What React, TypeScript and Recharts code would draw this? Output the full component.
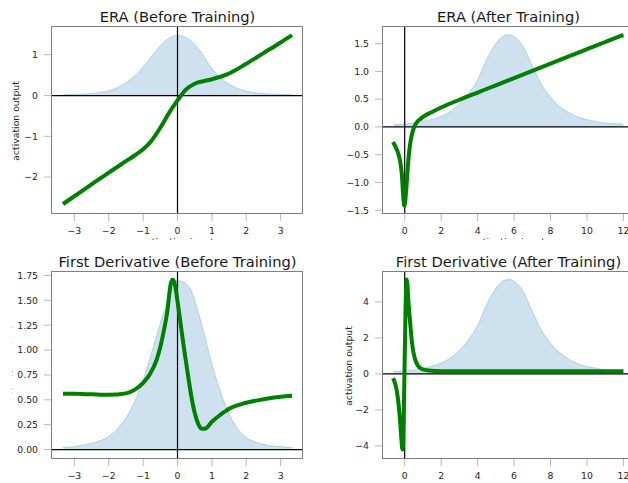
import React from 'react';
import { ComposedChart, Line, Area, XAxis, YAxis, ReferenceLine } from 'recharts';

// ---- density (before training) ----
const densBeforeX = [-3.33, -3, -2.67, -2.33, -2, -1.67, -1.33, -1, -0.67, -0.33, 0, 0.33, 0.67, 1, 1.33, 1.67, 2, 2.33, 2.67, 3, 3.33];
const densTL = [0.02, 0.03, 0.04, 0.07, 0.12, 0.23, 0.42, 0.7, 1.05, 1.36, 1.48, 1.38, 1.08, 0.66, 0.38, 0.2, 0.11, 0.06, 0.04, 0.03, 0.02];
const densBL = [0.02, 0.03, 0.05, 0.08, 0.13, 0.24, 0.42, 0.7, 1.07, 1.45, 1.7, 1.64, 1.3, 0.86, 0.5, 0.25, 0.12, 0.07, 0.04, 0.03, 0.02];

// ---- ERA before training ----
const eraBeforeX = [-3.33, -3, -2.5, -2, -1.5, -1.25, -1, -0.75, -0.5, -0.25, 0, 0.25, 0.5, 0.75, 1, 1.25, 1.5, 2, 2.5, 3, 3.33];
const eraBeforeY = [-2.66, -2.47, -2.18, -1.89, -1.61, -1.47, -1.32, -1.1, -0.79, -0.43, -0.12, 0.15, 0.29, 0.35, 0.4, 0.46, 0.54, 0.78, 1.04, 1.3, 1.48];

// ---- first derivative before training ----
const derivBeforeX = [-3.33, -3, -2.5, -2, -1.5, -1.25, -1, -0.8, -0.6, -0.5, -0.4, -0.3, -0.2, -0.15, -0.1, -0.05, 0, 0.1, 0.2, 0.3, 0.4, 0.5, 0.6, 0.7, 0.8, 1, 1.25, 1.5, 2, 2.5, 3, 3.33];
const derivBeforeY = [0.56, 0.56, 0.555, 0.55, 0.565, 0.6, 0.67, 0.76, 0.91, 1.03, 1.19, 1.38, 1.66, 1.71, 1.69, 1.61, 1.49, 1.24, 0.99, 0.76, 0.54, 0.37, 0.26, 0.21, 0.21, 0.28, 0.35, 0.41, 0.47, 0.505, 0.53, 0.54];

// ---- density (after training) ----
const densAfterX = [-0.6, 0, 0.5, 1, 1.5, 2, 2.5, 3, 3.5, 4, 4.5, 5, 5.5, 5.75, 6, 6.5, 7, 7.5, 8, 8.5, 9, 9.5, 10, 10.5, 11, 11.5, 12];
const densTR = [0.04, 0.05, 0.07, 0.1, 0.14, 0.19, 0.28, 0.41, 0.6, 0.85, 1.22, 1.5, 1.65, 1.66, 1.63, 1.45, 1.1, 0.77, 0.54, 0.37, 0.26, 0.18, 0.13, 0.1, 0.07, 0.06, 0.05];
const densBR = [0.13, 0.16, 0.22, 0.32, 0.44, 0.6, 0.88, 1.3, 1.9, 2.69, 3.86, 4.74, 5.21, 5.24, 5.15, 4.58, 3.48, 2.43, 1.71, 1.17, 0.82, 0.57, 0.41, 0.32, 0.22, 0.19, 0.16];

// ---- ERA after training ----
const eraAfterX = [-0.64, -0.5, -0.35, -0.25, -0.16, -0.08, -0.02, 0.04, 0.11, 0.2, 0.28, 0.38, 0.5, 0.6, 0.7, 0.85, 1, 1.5, 2, 3, 4, 5, 6, 7, 8, 9, 10, 11, 12];
const eraAfterY = [-0.27, -0.36, -0.48, -0.62, -0.84, -1.25, -1.42, -1.3, -1.02, -0.6, -0.35, -0.16, -0.02, 0.05, 0.1, 0.14, 0.18, 0.27, 0.35, 0.49, 0.62, 0.75, 0.88, 1.01, 1.14, 1.27, 1.4, 1.53, 1.66];

// ---- first derivative after training ----
const derivAfterX = [-0.64, -0.55, -0.45, -0.35, -0.25, -0.18, -0.12, -0.08, -0.04, 0, 0.04, 0.08, 0.11, 0.15, 0.2, 0.3, 0.4, 0.5, 0.6, 0.7, 0.85, 1, 1.3, 1.7, 2.5, 4, 6, 8, 10, 12];
const derivAfterY = [-0.24, -0.45, -0.85, -1.55, -2.65, -3.65, -4.2, -3.6, -1.6, 0.8, 3.2, 4.9, 5.25, 5.0, 4.1, 2.85, 1.75, 1.1, 0.72, 0.5, 0.33, 0.25, 0.19, 0.16, 0.15, 0.15, 0.15, 0.15, 0.15, 0.15];

// ---- ticks ----
const ticksBeforeX = [-3, -2, -1, 0, 1, 2, 3];
const ticksAfterX = [0, 2, 4, 6, 8, 10, 12];
const ticksTLY = [-2, -1, 0, 1];
const ticksTRY = [-1.5, -1, -0.5, 0, 0.5, 1, 1.5];
const ticksBLY = [0, 0.25, 0.5, 0.75, 1, 1.25, 1.5, 1.75];
const ticksBRY = [-4, -2, 0, 2, 4];

const titles = ['ERA (Before Training)', 'ERA (After Training)', 'First Derivative (Before Training)', 'First Derivative (After Training)'];
const yLabelText = 'activation output';
const xLabelText = 'activation input';

type Row = { x: number; y?: number; d?: number };

function merge(lx: number[], ly: number[], dx: number[], dy: number[]): Row[] {
  const m = new Map<number, Row>();
  lx.forEach((x, i) => {
    const r = m.get(x) ?? { x };
    r.y = ly[i];
    m.set(x, r);
  });
  dx.forEach((x, i) => {
    const r = m.get(x) ?? { x };
    r.d = dy[i];
    m.set(x, r);
  });
  return [...m.values()].sort((a, b) => a.x - b.x);
}

const fmt = (digits: number) => (v: number) => v.toFixed(digits).replace('-', '\u2212');

const FONT = 'DejaVu Sans';
const tickStyle = { fontSize: 9.3, fill: '#262626', fontFamily: FONT };

type PanelProps = {
  left: number;
  top: number;
  width: number;
  yw: number;
  data: Row[];
  xDomain: [number, number];
  yDomain: [number, number];
  xTicks: number[];
  yTicks: number[];
  yDigits: number;
};

function Panel({ left, top, width, yw, data, xDomain, yDomain, xTicks, yTicks, yDigits }: PanelProps) {
  return (
    <div style={{ position: 'absolute', left, top }}>
      <ComposedChart width={width} height={245} data={data} margin={{ top: 27, right: width - yw - 251, bottom: 0, left: 0 }}>
        <XAxis
          type="number"
          dataKey="x"
          domain={xDomain}
          allowDataOverflow
          ticks={xTicks}
          interval={0}
          height={32}
          tickSize={8}
          tickMargin={6}
          axisLine={false}
          tickLine={{ stroke: '#b8b8b8' }}
          tick={tickStyle}
          tickFormatter={fmt(0)}
        />
        <YAxis
          type="number"
          domain={yDomain}
          allowDataOverflow
          ticks={yTicks}
          interval={0}
          width={yw}
          tickSize={8}
          tickMargin={6}
          axisLine={false}
          tickLine={{ stroke: '#b8b8b8' }}
          tick={tickStyle}
          tickFormatter={fmt(yDigits)}
        />
        <Area
          dataKey="d"
          type="monotone"
          connectNulls
          fill="#1f77b4"
          fillOpacity={0.22}
          stroke="#1f77b4"
          strokeOpacity={0.25}
          strokeWidth={1}
          dot={false}
          activeDot={false}
          isAnimationActive={false}
        />
        <ReferenceLine y={0} stroke="#000" strokeWidth={1.2} />
        <ReferenceLine x={0} stroke="#000" strokeWidth={1.2} />
        <Line
          dataKey="y"
          type="monotone"
          connectNulls
          stroke="#008000"
          strokeWidth={4}
          dot={false}
          activeDot={false}
          isAnimationActive={false}
        />
      </ComposedChart>
    </div>
  );
}

export default function App() {
  const dataTL = merge(eraBeforeX, eraBeforeY, densBeforeX, densTL);
  const dataBL = merge(derivBeforeX, derivBeforeY, densBeforeX, densBL);
  const dataTR = merge(eraAfterX, eraAfterY, densAfterX, densTR);
  const dataBR = merge(derivAfterX, derivAfterY, densAfterX, densBR);
  const spine = '#808080';
  return (
    <div style={{ position: 'absolute', left: 0, top: 0, width: 628, height: 483, overflow: 'hidden', background: '#fff' }}>
      <Panel left={0} top={0} width={314} yw={52} data={dataTL} xDomain={[-3.65, 3.65]} yDomain={[-2.88, 1.68]} xTicks={ticksBeforeX} yTicks={ticksTLY} yDigits={0} />
      <Panel left={314} top={0} width={326} yw={69} data={dataTR} xDomain={[-1.19, 12.58]} yDomain={[-1.55, 1.8]} xTicks={ticksAfterX} yTicks={ticksTRY} yDigits={1} />
      <Panel left={0} top={245} width={314} yw={52} data={dataBL} xDomain={[-3.65, 3.65]} yDomain={[-0.085, 1.785]} xTicks={ticksBeforeX} yTicks={ticksBLY} yDigits={2} />
      <Panel left={314} top={245} width={326} yw={69} data={dataBR} xDomain={[-1.19, 12.58]} yDomain={[-4.67, 5.66]} xTicks={ticksAfterX} yTicks={ticksBRY} yDigits={0} />
      <svg width={628} height={483} style={{ position: 'absolute', left: 0, top: 0, pointerEvents: 'none' }}>
        <defs>
          <clipPath id="clipTopX">
            <rect x={0} y={225} width={628} height={15} />
          </clipPath>
          <clipPath id="clipBLy">
            <rect x={0} y={270} width={12.5} height={200} />
          </clipPath>
        </defs>
        <rect x={51.5} y={26.5} width={251} height={187} fill="none" stroke={spine} strokeWidth={1} />
        <rect x={382.5} y={26.5} width={251} height={187} fill="none" stroke={spine} strokeWidth={1} />
        <rect x={51.5} y={271.5} width={251} height={187} fill="none" stroke={spine} strokeWidth={1} />
        <rect x={382.5} y={271.5} width={251} height={187} fill="none" stroke={spine} strokeWidth={1} />
        <g fontFamily={FONT} fontSize={14.7} fill="#1a1a1a" textAnchor="middle">
          <text x={177.5} y={21.5}>{titles[0]}</text>
          <text x={508.5} y={21.5}>{titles[1]}</text>
          <text x={177.5} y={266.5}>{titles[2]}</text>
          <text x={508.5} y={266.5}>{titles[3]}</text>
        </g>
        <g fontFamily={FONT} fontSize={9.3} fill="#262626" textAnchor="middle">
          <text transform="translate(19.3,121) rotate(-90)">{yLabelText}</text>
          <text transform="translate(351.5,366) rotate(-90)">{yLabelText}</text>
          <g clipPath="url(#clipBLy)">
            <text transform="translate(18.6,365) rotate(-90)">{yLabelText}</text>
          </g>
          <g clipPath="url(#clipTopX)">
            <text x={177.5} y={245}>{xLabelText}</text>
            <text x={508.5} y={245}>{xLabelText}</text>
          </g>
          <text x={177.5} y={490}>{xLabelText}</text>
          <text x={508.5} y={490}>{xLabelText}</text>
        </g>
      </svg>
    </div>
  );
}
